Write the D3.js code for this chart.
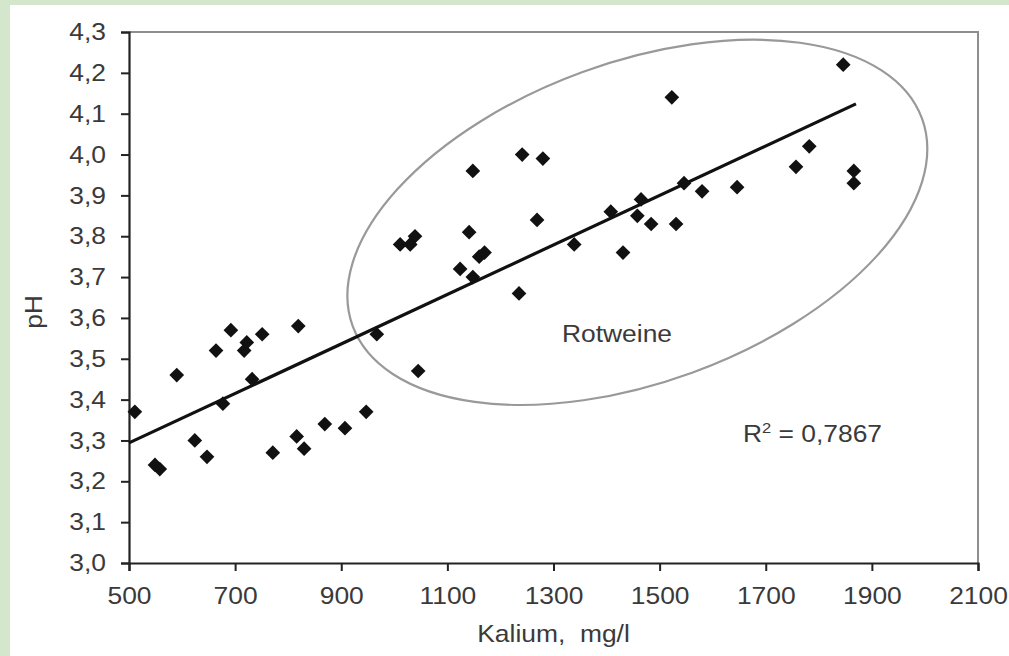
<!DOCTYPE html>
<html>
<head>
<meta charset="utf-8">
<script src="https://cdn.jsdelivr.net/npm/d3@7"></script>
<style>
  body { margin: 0; background: #fff; }
  svg { display: block; }
  text { font-family: "Liberation Sans", Arial, sans-serif; fill: #3a3a3a; }
</style>
</head>
<body>
<div id="chart"></div>
<script>
// Kalium (mg/l) vs pH
var kalium = [511, 590, 549, 558, 624, 647, 664, 677, 692, 722, 717, 732, 751, 819,
              771, 816, 830, 869, 907, 947, 967, 1045, 1011, 1030, 1039, 1148, 1241,
              1280, 1141, 1160, 1170, 1124, 1148, 1235, 1269, 1339, 1408, 1431, 1458,
              1484, 1465, 1523, 1546, 1531, 1580, 1646, 1757, 1782, 1846, 1866, 1866];
var ph     = [3.37, 3.46, 3.24, 3.23, 3.30, 3.26, 3.52, 3.39, 3.57, 3.54, 3.52, 3.45, 3.56, 3.58,
              3.27, 3.31, 3.28, 3.34, 3.33, 3.37, 3.56, 3.47, 3.78, 3.78, 3.80, 3.96, 4.00,
              3.99, 3.81, 3.75, 3.76, 3.72, 3.70, 3.66, 3.84, 3.78, 3.86, 3.76, 3.85,
              3.83, 3.89, 4.14, 3.93, 3.83, 3.91, 3.92, 3.97, 4.02, 4.22, 3.96, 3.93];

var trend_x = [500, 1870];
var trend_y = [3.294, 4.124];

var x_ticks = [500, 700, 900, 1100, 1300, 1500, 1700, 1900, 2100];
var y_ticks = [3.0, 3.1, 3.2, 3.3, 3.4, 3.5, 3.6, 3.7, 3.8, 3.9, 4.0, 4.1, 4.2, 4.3];

var ellipse_center = [1458, 3.834];
var r_squared = "0,7867";

var width = 1009, height = 656;
var margin = {top: 32, right: 31, bottom: 93, left: 129};
var w = width - margin.left - margin.right;
var h = height - margin.top - margin.bottom;
var stretch = 1.1; // the picture's text is a bit wider than Arial

var svg = d3.select("#chart").append("svg")
    .attr("width", width)
    .attr("height", height);

// pale green frame on the top and left
svg.append("rect").attr("x", 0).attr("y", 0).attr("width", width).attr("height", 5).attr("fill", "#d4e7cd");
svg.append("rect").attr("x", 0).attr("y", 0).attr("width", 10).attr("height", height).attr("fill", "#d4e7cd");

var g = svg.append("g")
    .attr("transform", "translate(" + margin.left + "," + margin.top + ")");

var x = d3.scaleLinear().domain([500, 2100]).range([0, w]);
var y = d3.scaleLinear().domain([3.0, 4.3]).range([h, 0]);

// top and right frame in grey
g.append("path")
    .attr("d", "M0,0H" + w + "V" + h)
    .attr("fill", "none")
    .attr("stroke", "#8e8e8e")
    .attr("stroke-width", 2);

// axes
var fmt = d3.format(".1f");
var yAxis = g.append("g")
    .call(d3.axisLeft(y).tickValues(y_ticks).tickSize(8).tickPadding(15)
          .tickFormat(d => fmt(d).replace(".", ",")));
var xAxis = g.append("g")
    .attr("transform", "translate(0," + h + ")")
    .call(d3.axisBottom(x).tickValues(x_ticks).tickSize(8).tickPadding(16)
          .tickFormat(d3.format("d")));

[yAxis, xAxis].forEach(function (ax) {
    ax.select(".domain").attr("stroke", "#222").attr("stroke-width", 2.2);
    ax.selectAll(".tick line").attr("stroke", "#222").attr("stroke-width", 2);
    ax.selectAll(".tick text")
        .attr("font-size", 24)
        .attr("font-family", "Liberation Sans, Arial, sans-serif")
        .attr("fill", "#3a3a3a");
});
yAxis.selectAll(".tick text")
    .attr("x", -23 / stretch)
    .attr("transform", "scale(" + stretch + ",1)");
xAxis.selectAll(".tick text")
    .attr("transform", "scale(" + stretch + ",1)");

// ellipse around the red wines
g.append("ellipse")
    .attr("transform", "translate(" + x(ellipse_center[0]) + "," + y(ellipse_center[1]) + ") rotate(-20)")
    .attr("rx", 303)
    .attr("ry", 160)
    .attr("fill", "none")
    .attr("stroke", "#999")
    .attr("stroke-width", 2.2);

// trend line
g.append("line")
    .attr("x1", x(trend_x[0])).attr("y1", y(trend_y[0]))
    .attr("x2", x(trend_x[1])).attr("y2", y(trend_y[1]))
    .attr("stroke", "#111")
    .attr("stroke-width", 3.2);

// points
var pts = kalium.map((k, i) => [k, ph[i]]);
g.selectAll(".pt")
    .data(pts)
    .enter()
    .append("path")
    .attr("class", "pt")
    .attr("d", d3.symbol().type(d3.symbolSquare).size(108))
    .attr("transform", d => "translate(" + x(d[0]) + "," + y(d[1]) + ") rotate(45)")
    .attr("fill", "#111");

// labels
svg.append("text")
    .attr("transform", "translate(562,342) scale(" + stretch + ",1)")
    .attr("font-size", 24)
    .text("Rotweine");

var r2 = svg.append("text")
    .attr("transform", "translate(743,442) scale(" + stretch + ",1)")
    .attr("font-size", 24);
r2.append("tspan").text("R");
r2.append("tspan").attr("font-size", 15).attr("dy", -9).text("2");
r2.append("tspan").attr("dy", 9).text(" = " + r_squared);

svg.append("text")
    .attr("transform", "translate(" + (margin.left + w / 2) + ",642) scale(" + stretch + ",1)")
    .attr("text-anchor", "middle")
    .attr("font-size", 24)
    .attr("xml:space", "preserve")
    .text("Kalium,  mg/l");

svg.append("text")
    .attr("transform", "translate(42,312) rotate(-90) scale(" + stretch + ",1)")
    .attr("text-anchor", "middle")
    .attr("font-size", 24)
    .text("pH");
</script>
</body>
</html>
